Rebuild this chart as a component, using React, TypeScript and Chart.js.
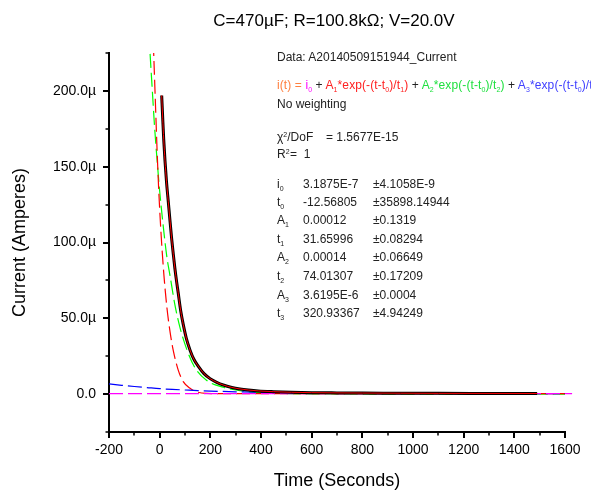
import React, { useEffect, useRef } from 'react';
import { Chart, registerables } from 'chart.js';

Chart.register(...registerables);

const FONT = '"Liberation Sans", Arial, sans-serif';

// ---- Data (time in s, current in µA) ----
const dataTime = [8, 12, 16, 21, 27, 34, 41, 47, 54, 60, 67, 73, 83, 93, 105, 120, 135, 152, 175, 199, 225, 251, 285, 317, 350, 389, 450, 520, 600, 700, 800, 950, 1100, 1300, 1490];
const dataCurrent = [197, 182, 168, 154, 140, 127, 114, 103, 92, 83, 74, 67, 55, 46, 37, 29, 23, 18.5, 13.5, 10.2, 7.8, 6, 4.4, 3.4, 2.7, 2.1, 1.6, 1.2, 0.95, 0.8, 0.7, 0.6, 0.5, 0.45, 0.4];

const fitTime = [8, 12, 16, 21, 27, 34, 41, 47, 54, 60, 67, 73, 83, 93, 105, 120, 135, 152, 175, 199, 225, 251, 285, 317, 350, 389, 450, 520, 600, 700, 800, 950, 1100, 1300, 1490];
const fitCurrent = [197, 182, 168, 154, 140, 127, 114, 103, 92, 83, 74, 67, 55, 46, 37, 29, 23, 18.5, 13.5, 10.2, 7.8, 6, 4.4, 3.4, 2.7, 2.1, 1.6, 1.2, 0.95, 0.8, 0.7, 0.6, 0.5, 0.45, 0.4];

const comp1Time = [-32, -25, -18, -10, -3, 4, 10, 17, 28, 41, 54, 73, 93, 120, 146, 186, 250, 400, 800, 1600];
const comp1Current = [270, 232, 198, 160, 132, 110, 94, 78, 58, 41, 28.5, 16, 8.2, 3.8, 1.5, 0.5, 0.3, 0.3, 0.3, 0.3];

const comp2Time = [-50, -38, -30, -20, -10, 0, 14, 28, 41, 60, 80, 107, 139, 186, 251, 317, 400, 500, 700, 1000, 1600];
const comp2Current = [262, 225, 203, 176, 154, 134, 111, 91, 78, 59, 44, 29.5, 17.5, 9, 4.5, 2.2, 0.9, 0.35, 0.1, 0.02, 0];

const comp3Time = [-200, -150, -100, -50, 0, 50, 100, 150, 200, 300, 400, 500, 700, 900, 1200, 1600];
const comp3Current = [6.7, 5.8, 5.0, 4.3, 3.6, 3.1, 2.7, 2.3, 2.0, 1.5, 1.2, 1.0, 0.7, 0.55, 0.4, 0.35];

const baseTime = [-200, 1628];
const baseCurrent = [0.3, 0.3];

const xTicks = [-200, 0, 200, 400, 600, 800, 1000, 1200, 1400, 1600];
const xTickLabels = ['-200', '0', '200', '400', '600', '800', '1000', '1200', '1400', '1600'];
const xMinorTicks = [-100, 100, 300, 500, 700, 900, 1100, 1300, 1500];
const yTicks = [0, 50, 100, 150, 200];
const yTickLabels = ['0.0', '50.0µ', '100.0µ', '150.0µ', '200.0µ'];
const yMinorTicks = [-25, 25, 75, 125, 175, 225];

const paramNames = ['i', 't', 'A', 't', 'A', 't', 'A', 't'];
const paramSubs = ['0', '0', '1', '1', '2', '2', '3', '3'];
const paramValues = ['3.1875E-7', '-12.56805', '0.00012', '31.65996', '0.00014', '74.01307', '3.6195E-6', '320.93367'];
const paramErrors = ['±4.1058E-9', '±35898.14944', '±0.1319', '±0.08294', '±0.06649', '±0.17209', '±0.0004', '±4.94249'];
const rowTops = [177, 195, 213, 231.5, 250, 269, 287.5, 306];

const pts = (xs: number[], ys: number[]) => xs.map((x, i) => ({ x, y: ys[i] }));

const tickPlugin = {
  id: 'originTicks',
  afterDraw(chart: any) {
    const { ctx, chartArea } = chart;
    const xs = chart.scales.x;
    const ys = chart.scales.y;
    ctx.save();
    ctx.strokeStyle = '#000';
    const draw = (x1: number, y1: number, x2: number, y2: number, w: number) => {
      ctx.lineWidth = w;
      ctx.beginPath();
      ctx.moveTo(x1, y1);
      ctx.lineTo(x2, y2);
      ctx.stroke();
    };
    const b = chartArea.bottom;
    const l = chartArea.left;
    xTicks.forEach((v) => { const p = Math.round(xs.getPixelForValue(v)); draw(p, b, p, b + 6, 2); });
    xMinorTicks.forEach((v) => { const p = Math.round(xs.getPixelForValue(v)); draw(p, b, p, b + 3.5, 1.5); });
    yTicks.forEach((v) => { const p = Math.round(ys.getPixelForValue(v)); draw(l, p, l - 6, p, 2); });
    yMinorTicks.forEach((v) => { const p = Math.round(ys.getPixelForValue(v)); draw(l, p, l - 3.5, p, 1.5); });
    ctx.restore();
  },
};

const Sub = ({ c }: { c: string }) => (
  <span style={{ fontSize: 7, position: 'relative', top: 3 }}>{c}</span>
);
const Sup = ({ c }: { c: string }) => (
  <span style={{ fontSize: 7, position: 'relative', top: -4 }}>{c}</span>
);

export default function App() {
  const ref = useRef<HTMLCanvasElement | null>(null);

  useEffect(() => {
    document.body.style.margin = '0';
    const dashed = { borderWidth: 1.2, borderDash: [14, 5], pointRadius: 0, fill: false, cubicInterpolationMode: 'monotone' as const };
    const chart = new Chart(ref.current as HTMLCanvasElement, {
      type: 'line',
      data: {
        datasets: [
          { label: 'Fit', data: pts(fitTime, fitCurrent), borderColor: '#FF0000', borderWidth: 1, pointRadius: 0, cubicInterpolationMode: 'monotone', order: 0 },
          { label: 'Data', data: pts(dataTime, dataCurrent), borderColor: '#000000', borderWidth: 3, pointRadius: 0, cubicInterpolationMode: 'monotone', order: 1 },
          { label: 'i0', data: pts(baseTime, baseCurrent), borderColor: '#FF00FF', ...dashed, order: 2, clip: { left: 0, top: 0, right: 8, bottom: 0 } },
          { label: 'A3', data: pts(comp3Time, comp3Current), borderColor: '#0000FF', ...dashed, order: 3 },
          { label: 'A1', data: pts(comp1Time, comp1Current), borderColor: '#FF0000', ...dashed, order: 4 },
          { label: 'A2', data: pts(comp2Time, comp2Current), borderColor: '#00FF00', ...dashed, order: 5 },
        ] as any,
      },
      options: {
        animation: false,
        responsive: false,
        events: [],
        layout: { padding: { top: 53, right: 26, left: 0, bottom: 0 } },
        plugins: { legend: { display: false }, tooltip: { enabled: false }, title: { display: false } },
        scales: {
          x: {
            type: 'linear',
            min: -200,
            max: 1600,
            afterBuildTicks: (s: any) => { s.ticks = xTicks.map((v) => ({ value: v })); },
            afterFit: (s: any) => { s.height = 61; },
            grid: { display: false, drawTicks: false, tickLength: 0 },
            border: { display: true, color: '#000', width: 2 },
            ticks: { autoSkip: false, maxRotation: 0, padding: 10, color: '#000', font: { family: FONT, size: 14 }, callback: (_v: any, i: number) => xTickLabels[i] },
            title: { display: true, text: 'Time (Seconds)', color: '#000', font: { family: FONT, size: 18 }, padding: { top: 0, bottom: 1 } },
          },
          y: {
            type: 'linear',
            min: -25,
            max: 225,
            afterBuildTicks: (s: any) => { s.ticks = yTicks.map((v) => ({ value: v })); },
            afterFit: (s: any) => { s.width = 109; },
            grid: { display: false, drawTicks: false, tickLength: 0 },
            border: { display: true, color: '#000', width: 2 },
            ticks: { autoSkip: false, padding: 13, color: '#000', font: { family: FONT, size: 14 }, callback: (_v: any, i: number) => yTickLabels[i] },
            title: { display: true, text: 'Current (Amperes)', color: '#000', font: { family: FONT, size: 18 }, padding: { top: 9, bottom: 0 } },
          },
        },
      } as any,
      plugins: [tickPlugin],
    });
    return () => chart.destroy();
  }, []);

  const txt: React.CSSProperties = { position: 'absolute', fontSize: 12, lineHeight: '14px', whiteSpace: 'pre', color: '#222' };

  return (
    <div style={{ position: 'fixed', left: 0, top: 0, width: 591, height: 493, overflow: 'hidden', background: '#fff', fontFamily: FONT }}>
      <canvas ref={ref} width={591} height={493} style={{ position: 'absolute', left: 0, top: 0, width: 591, height: 493 }} />
      <div style={{ position: 'absolute', left: 0, width: 668, textAlign: 'center', top: 10, fontSize: 17, lineHeight: '22px', whiteSpace: 'nowrap', color: '#000' }}>
        C=470µF; R=100.8kΩ; V=20.0V
      </div>
      <div style={{ ...txt, left: 277, top: 50 }}>Data: A20140509151944_Current</div>
      <div style={{ ...txt, left: 277, top: 78, letterSpacing: '0.1px' }}>
        <span style={{ color: '#FF8040' }}>i(t) = </span>
        <span style={{ color: '#FF00FF' }}>i<Sub c="0" /></span>
        <span> + </span>
        <span style={{ color: '#FF2020' }}>A<Sub c="1" />*exp(-(t-t<Sub c="0" />)/t<Sub c="1" />)</span>
        <span> + </span>
        <span style={{ color: '#20E040' }}>A<Sub c="2" />*exp(-(t-t<Sub c="0" />)/t<Sub c="2" />)</span>
        <span> + </span>
        <span style={{ color: '#4040FF' }}>A<Sub c="3" />*exp(-(t-t<Sub c="0" />)/t<Sub c="3" />)</span>
      </div>
      <div style={{ ...txt, left: 277, top: 97 }}>No weighting</div>
      <div style={{ ...txt, left: 277, top: 130 }}>χ<Sup c="2" />/DoF</div>
      <div style={{ ...txt, left: 326, top: 130 }}>= 1.5677E-15</div>
      <div style={{ ...txt, left: 277, top: 147 }}>R<Sup c="2" /></div>
      <div style={{ ...txt, left: 290, top: 147 }}>=  1</div>
      {paramNames.map((n, i) => (
        <React.Fragment key={i}>
          <div style={{ ...txt, left: 277, top: rowTops[i] }}>{n}<Sub c={paramSubs[i]} /></div>
          <div style={{ ...txt, left: 303, top: rowTops[i] }}>{paramValues[i]}</div>
          <div style={{ ...txt, left: 373, top: rowTops[i] }}>{paramErrors[i]}</div>
        </React.Fragment>
      ))}
    </div>
  );
}
